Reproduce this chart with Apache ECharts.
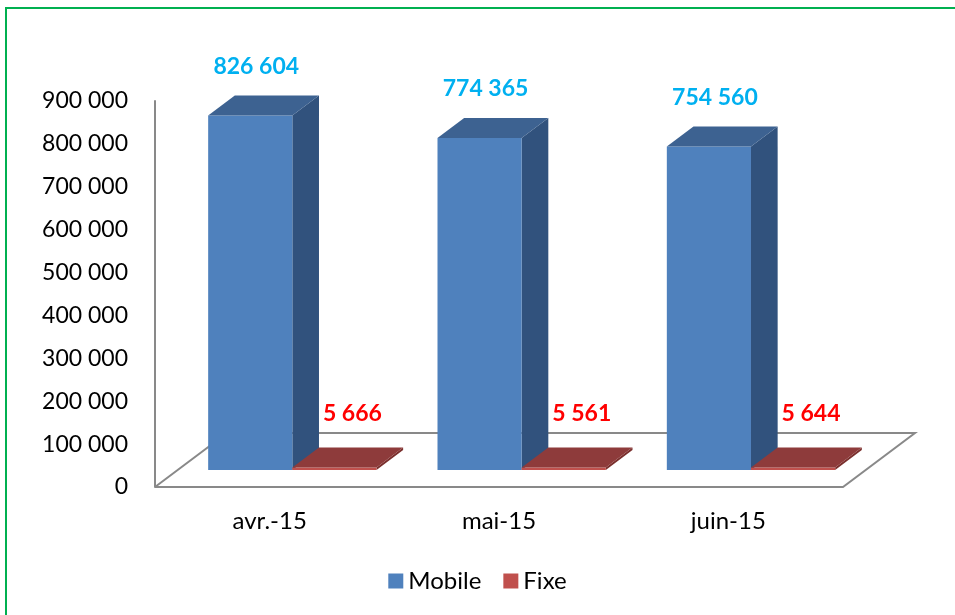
<!DOCTYPE html>
<html>
<head>
<meta charset="utf-8">
<script src="https://cdn.jsdelivr.net/npm/echarts@6/dist/echarts.min.js"></script>
<style>
  html, body { margin: 0; padding: 0; background: #fff; }
  #chart { width: 955px; height: 615px; }
</style>
</head>
<body>
<div id="chart"></div>
<script>
const categories = ['avr.-15', 'mai-15', 'juin-15']
const mobile = [826604, 774365, 754560]
const fixe = [5666, 5561, 5644]
const yTicks = [0, 100000, 200000, 300000, 400000, 500000, 600000, 700000, 800000, 900000]

const FONT = 'Lato'
// 3d look: pixel depths, dx = K * dy
const K = 1.333
const FRONT_OFF = 17
const BAR_DEPTH = 20
const FLOOR_DEPTH = 54
const BAR_RATIO = 0.367

const fmt = v => String(v).replace(/\B(?=(\d{3})+(?!\d))/g, ' ')

const makeBar = (side, colors, label) => (params, api) => {
  const idx = api.value(0)
  const base = api.coord([idx, 0])
  const top = api.coord([idx, api.value(1)])
  const band = api.size([1, 0])[0]
  const w = band * BAR_RATIO
  const cx = base[0] + FRONT_OFF * K
  const x1 = side < 0 ? cx - w : cx
  const x2 = x1 + w
  const yb = base[1] - FRONT_OFF
  const yt = top[1] - FRONT_OFF
  const ddx = BAR_DEPTH * K
  const ddy = -BAR_DEPTH
  return {
    type: 'group',
    children: [{
      type: 'polygon',
      shape: { points: [[x2, yt], [x2 + ddx, yt + ddy], [x2 + ddx, yb + ddy], [x2, yb]] },
      style: { fill: colors.side }
    }, {
      type: 'rect',
      shape: { x: x1, y: yt, width: w, height: Math.max(yb - yt, 2) },
      style: { fill: colors.front }
    }, {
      type: 'polygon',
      shape: { points: [[x1, yt], [x2, yt], [x2 + ddx, yt + ddy], [x1 + ddx, yt + ddy]] },
      style: { fill: colors.top }
    }, {
      type: 'text',
      x: x1 + w / 2 + label.dx,
      y: yt + label.dy,
      style: {
        text: fmt(api.value(1)),
        fill: label.color,
        font: 'bold 23px ' + FONT,
        align: 'center',
        verticalAlign: 'middle'
      }
    }]
  }
}

const renderFloor = (params, api) => {
  const g = params.coordSys
  const x0 = g.x
  const x1 = g.x + g.width
  const y0 = g.y + g.height
  const dx = FLOOR_DEPTH * K
  const dy = -FLOOR_DEPTH
  return {
    type: 'polyline',
    shape: { points: [[x0, y0], [x1, y0], [x1 + dx, y0 + dy], [x0 + dx, y0 + dy], [x0, y0]] },
    style: { fill: '#fff', stroke: '#898989', lineWidth: 2 }
  }
}

const chart = echarts.init(document.getElementById('chart'))
chart.setOption({
  animation: false,
  backgroundColor: '#fff',
  graphic: [{
    type: 'rect',
    shape: { x: 6, y: 8, width: 1200, height: 900 },
    style: { fill: 'none', stroke: '#00B050', lineWidth: 2 },
    z: 100
  }],
  legend: {
    bottom: 17,
    left: 'center',
    icon: 'rect',
    itemWidth: 15,
    itemHeight: 15,
    itemGap: 22,
    data: ['Mobile', 'Fixe'],
    textStyle: { fontFamily: FONT, fontSize: 24, color: '#000' }
  },
  grid: { left: 155, right: 112, top: 101, bottom: 128 },
  xAxis: {
    type: 'category',
    data: categories,
    axisLine: { show: false },
    axisTick: { show: false },
    axisLabel: { margin: 22, fontFamily: FONT, fontSize: 24, color: '#000' }
  },
  yAxis: {
    type: 'value',
    min: yTicks[0],
    max: yTicks[yTicks.length - 1],
    interval: 100000,
    splitLine: { show: false },
    axisTick: { show: false },
    axisLine: { show: true, lineStyle: { color: '#898989', width: 2 } },
    axisLabel: { margin: 27, fontFamily: FONT, fontSize: 23, color: '#000', formatter: fmt }
  },
  series: [{
    type: 'custom',
    name: 'floor',
    renderItem: renderFloor,
    data: [[0, 0]],
    silent: true,
    z: 1
  }, {
    type: 'custom',
    name: 'Mobile',
    itemStyle: { color: '#4F81BD' },
    renderItem: makeBar(-1, { front: '#4F81BD', top: '#3D6291', side: '#31527D' }, { dx: 6, dy: -49, color: '#00B0F0' }),
    encode: { x: 0, y: 1 },
    data: mobile.map((v, i) => [i, v]),
    z: 2
  }, {
    type: 'custom',
    name: 'Fixe',
    itemStyle: { color: '#C0504D' },
    renderItem: makeBar(1, { front: '#C0504D', top: '#8E3B3B', side: '#7A2F2D' }, { dx: 18, dy: -54, color: '#FF0000' }),
    encode: { x: 0, y: 1 },
    data: fixe.map((v, i) => [i, v]),
    z: 3
  }]
})
</script>
</body>
</html>
